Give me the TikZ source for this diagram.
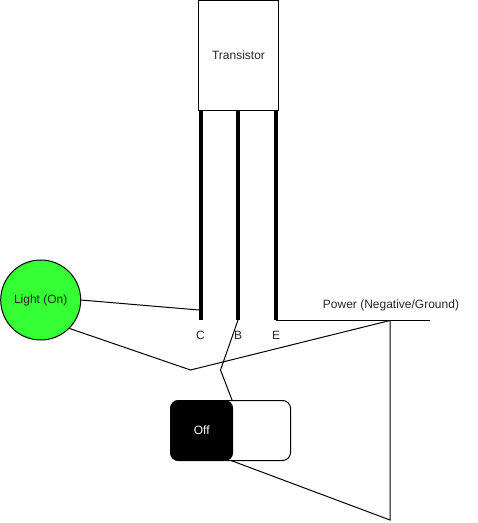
\documentclass[tikz,border=0pt]{standalone}
\usepackage{fontspec}
\setmainfont{Liberation Sans}
\definecolor{lightgreen}{RGB}{51,255,51}
\tikzset{
  wire/.style={line width=0.75pt, line join=miter},
  leg/.style={line width=3pt},
  lbl/.style={font=\fontsize{9}{11}\selectfont, text=black!85, inner sep=0pt},
}
\begin{document}
\begin{tikzpicture}[x=0.75pt,y=-0.75pt]
\useasboundingbox (0,0) rectangle (477,523);

% The transistor and its three legs
\node[draw, wire, fill=white, lbl, minimum width=60pt, minimum height=82.5pt, outer sep=0pt] (Transistor) at (238.5,55.5) {Transistor};
\foreach \name/\x in {C/200.5,B/238,E/276} {
  \coordinate (top\name) at (\x,110.5);
  \coordinate (end\name) at (\x,320);
  \draw[leg] (top\name) -- (end\name);
  \node[lbl] (label\name) at (\x,335) {\name};
}

% The light
\node[circle, draw, wire, fill=lightgreen, lbl, minimum size=60pt, outer sep=0pt] (Light) at (40.7,300) {Light (On)};

% The switch
\node[draw, wire, fill=white, rounded corners=6pt, minimum width=90pt, minimum height=45pt, outer sep=0pt] (Switch) at (230.5,430.5) {};
\node[fill=black, rounded corners=6pt, minimum width=47pt, minimum height=45.6pt, inner sep=0pt, outer sep=0pt, text=white, font=\fontsize{9}{11}\selectfont] (Off) at (201.7,430.5) {Off};

% Power rail
\node[lbl] (Power) at (391,305) {Power (Negative/Ground)};
\coordinate (railstart) at (276,320.5);
\coordinate (railend) at (430,320.5);
\coordinate (join) at (390,320.5);
\coordinate (groundbot) at (390,520);
\coordinate (bendlight) at (190.5,370);
\coordinate (bendbase) at (220.5,370);
\coordinate (joinC) at (199,310);
\coordinate (baseend) at (232,400);
\coordinate (offcorner) at (231,460.5);

% Wires
\draw[wire] (railstart) -- (railend);
\draw[wire] (Light.east) -- (joinC);
\draw[wire] (Light.-45) -- (bendlight) -- (join);
\draw[wire] (endB) -- (bendbase) -- (baseend);
\draw[wire] (offcorner) -- (groundbot) -- (join);

\end{tikzpicture}
\end{document}
